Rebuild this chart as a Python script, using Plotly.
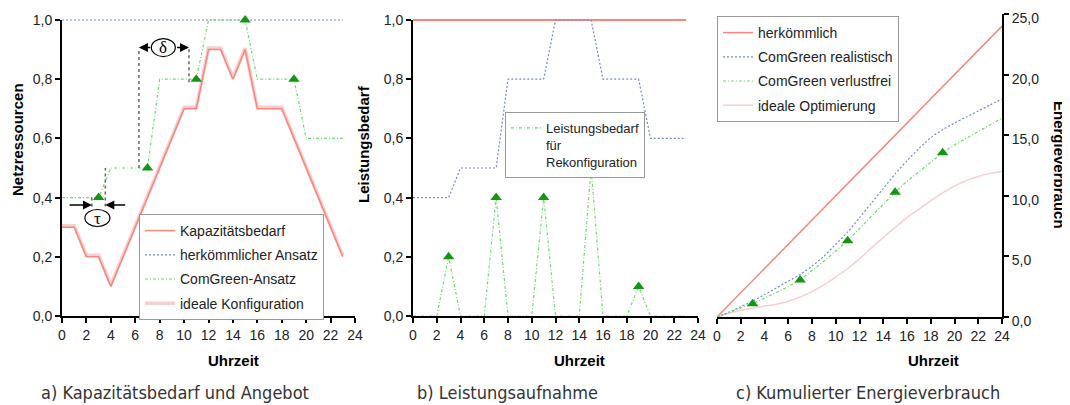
import plotly.graph_objects as go

# ---------------- data ----------------
hours = [0, 1, 2, 3, 4, 5, 6, 7, 8, 9, 10, 11, 12, 13, 14, 15, 16, 17, 18, 19, 20, 21, 22, 23]
hours_c = [0, 1, 2, 3, 4, 5, 6, 7, 8, 9, 10, 11, 12, 13, 14, 15, 16, 17, 18, 19, 20, 21, 22, 23, 24]
marker_hours = [3, 7, 11, 15, 19]
x_ticks = [0, 2, 4, 6, 8, 10, 12, 14, 16, 18, 20, 22, 24]

# a) Kapazitätsbedarf und Angebot
demand = [0.3, 0.3, 0.2, 0.2, 0.1, 0.2, 0.3, 0.4, 0.5, 0.6, 0.7, 0.7,
          0.9, 0.9, 0.8, 0.9, 0.7, 0.7, 0.7, 0.6, 0.5, 0.4, 0.3, 0.2]
ideal_conf = [0.305, 0.305, 0.205, 0.205, 0.105, 0.205, 0.305, 0.405, 0.505, 0.605, 0.705, 0.705,
              0.905, 0.905, 0.805, 0.905, 0.705, 0.705, 0.705, 0.605, 0.505, 0.405, 0.305, 0.205]
conventional_a = [1.0, 1.0, 1.0, 1.0, 1.0, 1.0, 1.0, 1.0, 1.0, 1.0, 1.0, 1.0,
                  1.0, 1.0, 1.0, 1.0, 1.0, 1.0, 1.0, 1.0, 1.0, 1.0, 1.0, 1.0]
comgreen_a = [0.4, 0.4, 0.4, 0.4, 0.5, 0.5, 0.5, 0.5, 0.8, 0.8, 0.8, 0.8,
              1.0, 1.0, 1.0, 1.0, 0.8, 0.8, 0.8, 0.8, 0.6, 0.6, 0.6, 0.6]
comgreen_a_marks = [0.4, 0.5, 0.8, 1.0, 0.8]

# b) Leistungsaufnahme
power_conv = [1.0, 1.0, 1.0, 1.0, 1.0, 1.0, 1.0, 1.0, 1.0, 1.0, 1.0, 1.0,
              1.0, 1.0, 1.0, 1.0, 1.0, 1.0, 1.0, 1.0, 1.0, 1.0, 1.0, 1.0]
power_comgreen = [0.4, 0.4, 0.4, 0.4, 0.5, 0.5, 0.5, 0.5, 0.8, 0.8, 0.8, 0.8,
                  1.0, 1.0, 1.0, 1.0, 0.8, 0.8, 0.8, 0.8, 0.6, 0.6, 0.6, 0.6]
reconfig = [0, 0, 0, 0.2, 0, 0, 0, 0.4, 0, 0, 0, 0.4,
            0, 0, 0, 0.5, 0, 0, 0, 0.1, 0, 0, 0, 0]
reconfig_marks = [0.2, 0.4, 0.4, 0.5, 0.1]

# c) Kumulierter Energieverbrauch
energy_conv = [0, 1, 2, 3, 4, 5, 6, 7, 8, 9, 10, 11, 12, 13, 14, 15, 16, 17, 18, 19, 20, 21, 22, 23, 24]
energy_real = [0, 0.4, 0.85, 1.3, 1.85, 2.4, 2.95, 3.5, 4.2, 5.0, 6.0, 7.0, 8.2,
               9.4, 10.6, 11.8, 12.9, 13.9, 14.8, 15.45, 16.0, 16.5, 17.0, 17.5, 18.0]
energy_lossless = [0, 0.37, 0.73, 1.1, 1.55, 2.0, 2.5, 3.05, 3.8, 4.6, 5.45, 6.3, 7.3,
                   8.3, 9.3, 10.3, 11.2, 12.0, 12.8, 13.55, 14.2, 14.75, 15.3, 15.85, 16.4]
energy_lossless_marks = [1.1, 3.05, 6.3, 10.3, 13.55]
energy_ideal = [0, 0.3, 0.55, 0.75, 0.9, 1.05, 1.3, 1.65, 2.1, 2.65, 3.3, 4.0, 4.8,
                5.7, 6.55, 7.4, 8.2, 8.9, 9.6, 10.25, 10.8, 11.25, 11.6, 11.85, 12.0]

# ---------------- styles ----------------
RED = "#f7877d"
PINK = "#f6cfcf"
BLUE = "#7489c6"
GREEN = "#72d872"
MARK = "#149614"
GREEN_DASH = "3px,2px,1px,2px"
BLUE_DASH = "2px,2px"
FONT = "Liberation Sans, Arial, sans-serif"

fig = go.Figure()

# ---- panel a ----
fig.add_trace(go.Scatter(x=[], y=[], xaxis="x", yaxis="y", showlegend=False, hoverinfo="skip"))
fig.add_trace(go.Scatter(x=hours, y=ideal_conf, mode="lines", name="ideale Konfiguration",
                         line=dict(color=PINK, width=3.5), xaxis="x", yaxis="y4",
                         legend="legend", legendrank=4, legendgroup="a4"))
fig.add_trace(go.Scatter(x=hours, y=demand, mode="lines", name="Kapazitätsbedarf",
                         line=dict(color=RED, width=1.5), xaxis="x", yaxis="y4",
                         legend="legend", legendrank=1, legendgroup="a1"))
fig.add_trace(go.Scatter(x=hours, y=conventional_a, mode="lines", name="herkömmlicher Ansatz",
                         line=dict(color=BLUE, width=1.2, dash=BLUE_DASH), xaxis="x", yaxis="y4",
                         legend="legend", legendrank=2, legendgroup="a2"))
fig.add_trace(go.Scatter(x=hours, y=comgreen_a, mode="lines", name="ComGreen-Ansatz",
                         line=dict(color=GREEN, width=1.2, dash=GREEN_DASH), xaxis="x", yaxis="y4",
                         legend="legend", legendrank=3, legendgroup="a3"))
fig.add_trace(go.Scatter(x=marker_hours, y=comgreen_a_marks, mode="markers", showlegend=False,
                         marker=dict(symbol="triangle-up", size=10, color=MARK),
                         cliponaxis=False, xaxis="x", yaxis="y4"))

# ---- panel b ----
fig.add_trace(go.Scatter(x=[], y=[], xaxis="x2", yaxis="y2", showlegend=False, hoverinfo="skip"))
fig.add_trace(go.Scatter(x=hours, y=power_conv, mode="lines", showlegend=False,
                         line=dict(color=RED, width=2), xaxis="x2", yaxis="y5"))
fig.add_trace(go.Scatter(x=hours, y=power_comgreen, mode="lines", showlegend=False,
                         line=dict(color=BLUE, width=1.2, dash=BLUE_DASH), xaxis="x2", yaxis="y5"))
fig.add_trace(go.Scatter(x=hours, y=reconfig, mode="lines",
                         name="Leistungsbedarf<br>für<br>Rekonfiguration",
                         line=dict(color=GREEN, width=1.2, dash=GREEN_DASH), xaxis="x2", yaxis="y5",
                         legend="legend2"))
fig.add_trace(go.Scatter(x=marker_hours, y=reconfig_marks, mode="markers", showlegend=False,
                         marker=dict(symbol="triangle-up", size=10, color=MARK),
                         cliponaxis=False, xaxis="x2", yaxis="y5"))

# ---- panel c ----
fig.add_trace(go.Scatter(x=hours_c, y=energy_ideal, mode="lines", name="ideale Optimierung",
                         line=dict(color=PINK, width=1.5, shape="spline"), xaxis="x3", yaxis="y3",
                         legend="legend3", legendrank=4, legendgroup="c4"))
fig.add_trace(go.Scatter(x=hours_c, y=energy_conv, mode="lines", name="herkömmlich",
                         line=dict(color=RED, width=1.5), xaxis="x3", yaxis="y3",
                         legend="legend3", legendrank=1, legendgroup="c1"))
fig.add_trace(go.Scatter(x=hours_c, y=energy_real, mode="lines", name="ComGreen realistisch",
                         line=dict(color=BLUE, width=1.2, dash=BLUE_DASH, shape="spline", smoothing=0.6),
                         xaxis="x3", yaxis="y3", legend="legend3", legendrank=2, legendgroup="c2"))
fig.add_trace(go.Scatter(x=hours_c, y=energy_lossless, mode="lines", name="ComGreen verlustfrei",
                         line=dict(color=GREEN, width=1.2, dash=GREEN_DASH), xaxis="x3", yaxis="y3",
                         legend="legend3", legendrank=3, legendgroup="c3"))
fig.add_trace(go.Scatter(x=marker_hours, y=energy_lossless_marks, mode="markers", showlegend=False,
                         marker=dict(symbol="triangle-up", size=10, color=MARK),
                         cliponaxis=False, xaxis="x3", yaxis="y3"))

# ---------------- layout ----------------
# the page body has an 8 px margin, so the figure is 8 px smaller and all
# screen positions below are shifted by 8 px
OFF = 8
W, H = 1070 - OFF, 405 - OFF
def px(v):
    return (v - OFF) / W
def py(v):
    return (H - (v - OFF)) / H

tickfont = dict(family=FONT, size=14, color="#222")
common_x = dict(range=[0, 24], tickvals=x_ticks, ticks="outside", ticklen=5, tickwidth=1.5,
                tickcolor="black", showline=True, linecolor="black", linewidth=2,
                showgrid=False, zeroline=False, tickfont=tickfont, automargin=False,
                ticklabeloverflow="allow")
common_y = dict(ticks="outside", ticklen=5, tickwidth=1.5, tickcolor="black", showline=True,
                linecolor="black", linewidth=2, showgrid=False, zeroline=False,
                tickfont=tickfont, tickformat=".1f", automargin=False,
                ticklabeloverflow="allow")

Y0 = py(316)
Y1 = py(20)
YTOP = py(316 - 296 * 1.03)

legend_style = dict(bgcolor="white", bordercolor="#999", borderwidth=1,
                    font=dict(family=FONT, size=14, color="#222"),
                    xanchor="left", yanchor="top", traceorder="grouped", tracegroupgap=3)

fig.update_layout(
    width=W, height=H, autosize=False,
    margin=dict(l=0, r=0, t=0, b=0, pad=0, autoexpand=False),
    paper_bgcolor="white", plot_bgcolor="white", separators=",.",
    font=dict(family=FONT, color="#222"),
    xaxis=dict(domain=[px(62), px(355)], anchor="y", **common_x),
    xaxis2=dict(domain=[px(413), px(698)], anchor="y2", **common_x),
    xaxis3=dict(domain=[px(717), px(1002)], anchor="y3", **common_x),
    yaxis=dict(domain=[Y0, Y1], range=[0, 1], anchor="x",
               tickvals=[0, 0.2, 0.4, 0.6, 0.8, 1.0], **common_y),
    yaxis2=dict(domain=[Y0, Y1], range=[0, 1], anchor="x2",
                tickvals=[0, 0.2, 0.4, 0.6, 0.8, 1.0], **common_y),
    yaxis3=dict(domain=[py(317), py(14)], range=[0, 25], anchor="x3", side="right",
                tickvals=[0, 5, 10, 15, 20, 25], ticklabelshift=4, **common_y),
    yaxis4=dict(domain=[Y0, YTOP], range=[0, 1.03], anchor="x", visible=False),
    yaxis5=dict(domain=[Y0, YTOP], range=[0, 1.03], anchor="x2", visible=False),
    legend=dict(x=px(139), y=py(214), **legend_style),
    legend2=dict(x=px(505), y=py(112), valign="top",
                 **{**legend_style, "font": dict(family=FONT, size=13, color="#222")}),
    legend3=dict(x=px(717), y=py(16), **legend_style),
)

# ---- titles and captions ----
ann = []
title_font = dict(family=FONT, size=15, color="black")
for txt, xc in [("Uhrzeit", 233), ("Uhrzeit", 579), ("Uhrzeit", 933)]:
    ann.append(dict(text="<b>%s</b>" % txt, x=px(xc), y=py(360), xref="paper", yref="paper",
                    showarrow=False, font=title_font, xanchor="center", yanchor="middle"))
ann.append(dict(text="<b>Netzressourcen</b>", x=px(17), y=py(140), xref="paper", yref="paper",
                showarrow=False, textangle=-90, font=title_font, xanchor="center", yanchor="middle"))
ann.append(dict(text="<b>Leistungsbedarf</b>", x=px(364), y=py(144), xref="paper", yref="paper",
                showarrow=False, textangle=-90, font=title_font, xanchor="center", yanchor="middle"))
ann.append(dict(text="<b>Energieverbrauch</b>", x=px(1059), y=py(165), xref="paper", yref="paper",
                showarrow=False, textangle=90, font=title_font, xanchor="center", yanchor="middle"))
cap_font = dict(family="Liberation Sans Narrow, Arial Narrow, DejaVu Sans Condensed, Liberation Sans",
                size=18, color="#333")
for txt, xc in [("a) Kapazitätsbedarf und Angebot", 175), ("b) Leistungsaufnahme", 507),
                ("c) Kumulierter Energieverbrauch", 868)]:
    ann.append(dict(text=txt, x=px(xc), y=py(392), xref="paper", yref="paper", showarrow=False,
                    font=cap_font, xanchor="center", yanchor="middle"))

# ---- tau / delta markup in panel a ----
arrow = dict(xref="x", yref="y", axref="x", ayref="y", text="", showarrow=True,
             arrowhead=2, arrowsize=1.2, arrowwidth=1.5, arrowcolor="black", standoff=0, startstandoff=0)
ann.append(dict(x=2.45, y=0.375, ax=0.5, ay=0.375, **arrow))
ann.append(dict(x=3.55, y=0.375, ax=5.3, ay=0.375, **arrow))
ann.append(dict(x=6.3, y=0.907, ax=7.35, ay=0.907, **arrow))
ann.append(dict(x=10.4, y=0.907, ax=9.3, ay=0.907, **arrow))
greek = dict(family="Liberation Serif, DejaVu Serif, serif", size=17, color="black")
ann.append(dict(x=2.9, y=0.331, xref="x", yref="y", text="τ", showarrow=False, font=greek))
ann.append(dict(x=8.3, y=0.907, xref="x", yref="y", text="δ", showarrow=False, font=greek))
fig.update_layout(annotations=ann)

gray = dict(color="#666", width=1.5, dash="dot")
shapes = [
    dict(type="line", xref="x", yref="y", x0=2.45, x1=2.45, y0=0.37, y1=0.40, line=gray),
    dict(type="line", xref="x", yref="y", x0=3.55, x1=3.55, y0=0.37, y1=0.50, line=gray),
    dict(type="line", xref="x", yref="y", x0=6.3, x1=6.3, y0=0.50, y1=0.905, line=gray),
    dict(type="line", xref="x", yref="y", x0=10.4, x1=10.4, y0=0.79, y1=0.905, line=gray),
    dict(type="circle", xref="x", yref="y", xsizemode="pixel", ysizemode="pixel",
         xanchor=2.9, yanchor=0.331, x0=-12.5, x1=12.5, y0=-8.5, y1=8.5,
         line=dict(color="black", width=1.2), fillcolor="white"),
    dict(type="circle", xref="x", yref="y", xsizemode="pixel", ysizemode="pixel",
         xanchor=8.3, yanchor=0.907, x0=-12, x1=12, y0=-9, y1=9,
         line=dict(color="black", width=1.2), fillcolor="white"),
]
fig.update_layout(shapes=shapes)

fig.write_html("out.html")
